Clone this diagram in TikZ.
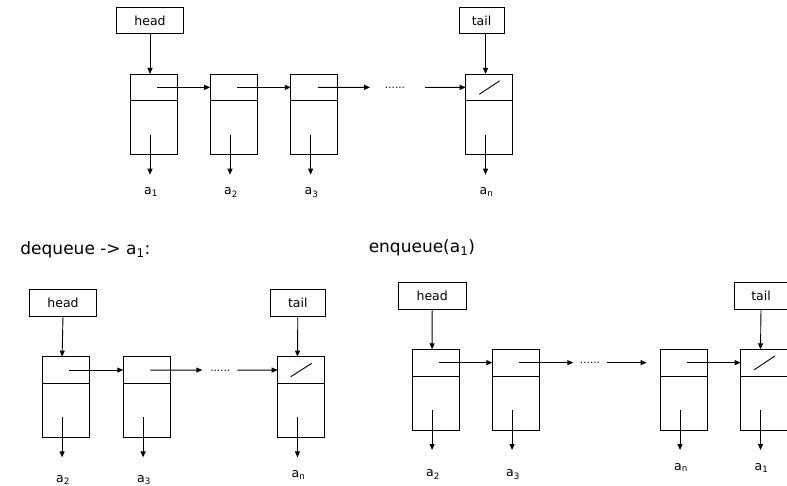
\documentclass[tikz,border=0pt]{standalone}
\usepackage{fontspec}
\setmainfont{DejaVu Sans}
\usetikzlibrary{arrows.meta}
\begin{document}
\begin{tikzpicture}[x=1pt,y=-1pt,line width=0.9pt,
  ptr/.style={-{Triangle[length=6pt,width=5pt]}},
  hbox/.style={draw,inner sep=0pt,outer sep=0pt,minimum height=26.7pt,font=\fontsize{12.5}{14}\selectfont},
  ptrcell/.style={draw,inner sep=0pt,outer sep=0pt,minimum width=47pt,minimum height=26.7pt,anchor=north},
  datacell/.style={draw,inner sep=0pt,outer sep=0pt,minimum width=47pt,minimum height=54pt,anchor=north},
  lbl/.style={inner sep=0pt,anchor=base,font=\fontsize{12.5}{14}\selectfont},
  etc/.style={inner sep=0pt,anchor=base,font=\fontsize{10.5}{12}\selectfont},
  ttl/.style={inner sep=0pt,anchor=base west,font=\fontsize{17}{20}\selectfont}]
  \useasboundingbox (0,0) rectangle (787,486);
  \foreach \nm/\cx/\ty/\sb/\lo in {t1/153.7/74/1/20, t2/233.7/74/2/20, t3/314.3/74/3/20, tn/489.2/74/n/20,
      d2/65.8/356.7/2/24.8, d3/146.8/356.7/3/24.8, dn/301.2/356.7/n/20,
      e2/435.8/349.3/2/26.7, e3/515.8/349.3/3/26.7, en/683.7/349.3/n/20, e1/764.2/349.3/1/20}{
    \node[ptrcell] (\nm p) at (\cx,\ty) {};
    \node[datacell] (\nm d) at (\nm p.south) {};
    \coordinate (\nm o) at ([xshift=-3.7pt,yshift=-20pt]\nm d.south);
    \draw[ptr] ([xshift=-3.7pt,yshift=20pt]\nm d.south) -- (\nm o);
    \node[lbl] (\nm l) at ([xshift=1pt,yshift=-\lo pt]\nm o) {a\textsubscript{\sb}};
  }
  \node[hbox,minimum width=67pt] (thead) at (150,20.5) {head};
  \node[hbox,minimum width=45pt] (ttail) at (481.5,20.5) {tail};
  \draw[ptr] (thead.south) -- ([xshift=-3.7pt]t1p.north);
  \draw[ptr] ([xshift=4pt]ttail.south) -- ([xshift=-3.7pt]tnp.north);
  \draw[ptr] ([xshift=3.5pt]t1p.center) -- (t2p.west);
  \draw[ptr] ([xshift=3.5pt]t2p.center) -- (t3p.west);
  \coordinate (tgo) at (370,87.35);
  \coordinate (tgi) at (425,87.35);
  \draw[ptr] ([xshift=3.5pt]t3p.center) -- (tgo);
  \node[etc] (tgap) at (395,88.5) {......};
  \draw[ptr] (tgi) -- (tnp.west);
  \draw ([xshift=-10pt,yshift=-7pt]tnp.center) -- ([xshift=10.5pt,yshift=6.5pt]tnp.center);
  \node[ttl] (deq) at (20,255) {dequeue -> a\textsubscript{1}:};
  \node[hbox,minimum width=67.4pt] (dhead) at (63,302.7) {head};
  \node[hbox,minimum width=54.3pt] (dtail) at (297.8,302.7) {tail};
  \draw[ptr] (dhead.south) -- ([xshift=-3.7pt]d2p.north);
  \draw[ptr] (dtail.south) -- ([xshift=-3.7pt]dnp.north);
  \draw[ptr] ([xshift=3.5pt]d2p.center) -- (d3p.west);
  \coordinate (dgo) at (202.3,370.05);
  \coordinate (dgi) at (237.3,370.05);
  \draw[ptr] ([xshift=3.5pt]d3p.center) -- (dgo);
  \node[etc] (dgap) at (220.3,371.2) {......};
  \draw[ptr] (dgi) -- (dnp.west);
  \draw ([xshift=-10.5pt,yshift=-6.7pt]dnp.center) -- ([xshift=10.5pt,yshift=6.7pt]dnp.center);
  \node[ttl] (enq) at (368.3,252.3) {enqueue(a\textsubscript{1})};
  \node[hbox,minimum width=67.7pt] (ehead) at (432.2,295.8) {head};
  \node[hbox,minimum width=54pt] (etail) at (761,295.8) {tail};
  \draw[ptr] (ehead.south) -- ([xshift=-3.7pt]e2p.north);
  \draw[ptr] (etail.south) -- ([xshift=-3.7pt]e1p.north);
  \draw[ptr] ([xshift=3.5pt]e2p.center) -- (e3p.west);
  \coordinate (ego) at (573.3,362.65);
  \coordinate (egi) at (606.7,362.65);
  \coordinate (egj) at (646.7,362.65);
  \draw[ptr] ([xshift=3.5pt]e3p.center) -- (ego);
  \node[etc] (egap) at (590,363.8) {......};
  \draw[ptr] (egi) -- (egj);
  \draw[ptr] ([xshift=3pt]enp.center) -- (e1p.west);
  \draw ([xshift=-10.2pt,yshift=-7.3pt]e1p.center) -- ([xshift=10.8pt,yshift=6.7pt]e1p.center);
\end{tikzpicture}
\end{document}
